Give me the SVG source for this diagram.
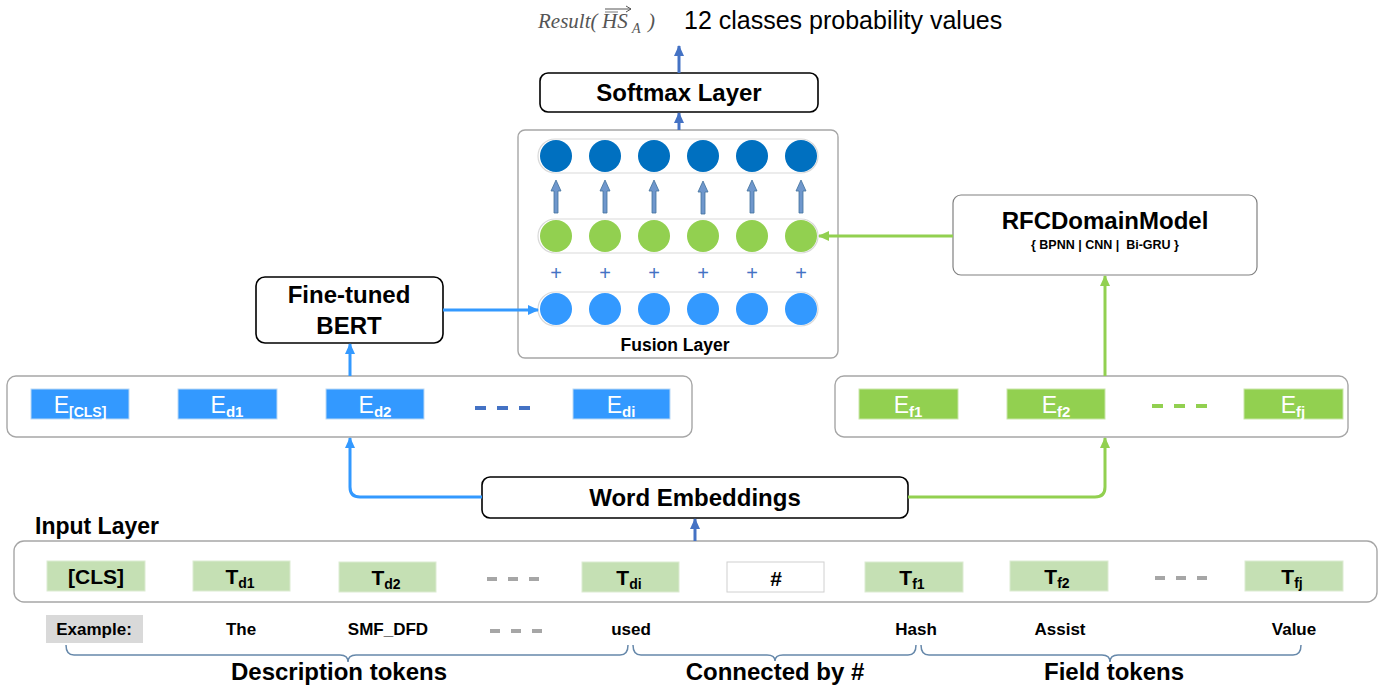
<svg xmlns="http://www.w3.org/2000/svg" width="1396" height="690" viewBox="0 0 1396 690">
<style>
text{font-family:"Liberation Sans",Arial,sans-serif}
.b{font-weight:bold}
.box{fill:#fff;stroke:#000;stroke-width:1.6}
.cont{fill:#fff;stroke:#a6a6a6;stroke-width:1.4}
.pill{fill:#fff;stroke:#d9d9d9;stroke-width:1.2}
.eb{fill:#3399ff;stroke:#bcd9f5;stroke-width:1}
.eg{fill:#92d050;stroke:#c9e6a9;stroke-width:1}
.tg{fill:#c5e0b4;stroke:#dcebd2;stroke-width:1}
.et{fill:#fff;font-size:23px;text-anchor:middle}
.tt{fill:#000;font-size:21px;font-weight:bold;text-anchor:middle}
.ex{fill:#000;font-size:17px;font-weight:bold;text-anchor:middle}
.lbl{fill:#000;font-size:24px;font-weight:bold;text-anchor:middle}
.plus{fill:#4472c4;font-size:20px;text-anchor:middle}
.brace{fill:none;stroke:#6688aa;stroke-width:1.5}
</style>
<defs>
<marker id="mb" markerUnits="userSpaceOnUse" markerWidth="12" markerHeight="12" refX="10" refY="6" orient="auto"><path d="M0,1 L11,6 L0,11 Z" fill="#3399ff"/></marker>
<marker id="mg" markerUnits="userSpaceOnUse" markerWidth="12" markerHeight="12" refX="10" refY="6" orient="auto"><path d="M0,1 L11,6 L0,11 Z" fill="#92d050"/></marker>
<marker id="md" markerUnits="userSpaceOnUse" markerWidth="12" markerHeight="12" refX="10" refY="6" orient="auto"><path d="M0,1 L11,6 L0,11 Z" fill="#4472c4"/></marker>
<path id="ba" d="M0,0 L5,11 L2,11 L2,33 L-2,33 L-2,11 L-5,11 Z" fill="#6f97cc" stroke="#41719c" stroke-width="0.8"/>
</defs>

<g id="result">
<text x="538" y="28" style="font-family:'Liberation Serif',serif;font-style:italic;font-size:21px" fill="#555">Result(<tspan x="602">HS</tspan><tspan x="632" dy="5" font-size="14">A</tspan><tspan x="648" dy="-5">)</tspan></text>
<line x1="605" y1="9" x2="631" y2="9" stroke="#555" stroke-width="1"/>
<path d="M626,6 L631,9 L626,12" fill="none" stroke="#555" stroke-width="1"/>
<line x1="605" y1="12" x2="618" y2="12" stroke="#555" stroke-width="0.8"/>
<text x="684" y="29" font-size="25" fill="#000">12 classes probability values</text>
</g>

<g id="softmax">
<rect class="box" x="540" y="73" width="278" height="39" rx="8"/>
<text class="lbl" x="679" y="101">Softmax Layer</text>
</g>

<g id="fusion">
<rect x="518" y="130" width="320" height="228" rx="7" fill="#fff" stroke="#a6a6a6" stroke-width="1.4"/>
<rect class="pill" x="538" y="139" width="280" height="34" rx="17"/>
<rect class="pill" x="538" y="219" width="280" height="34" rx="17"/>
<rect class="pill" x="538" y="292" width="280" height="34" rx="17"/>
<g fill="#0070c0">
<circle cx="556" cy="156" r="16"/><circle cx="605" cy="156" r="16"/><circle cx="654" cy="156" r="16"/><circle cx="703" cy="156" r="16"/><circle cx="752" cy="156" r="16"/><circle cx="801" cy="156" r="16"/>
</g>
<use href="#ba" x="556" y="180"/><use href="#ba" x="605" y="180"/><use href="#ba" x="654" y="180"/><use href="#ba" x="703" y="181"/><use href="#ba" x="752" y="180"/><use href="#ba" x="801" y="180"/>
<g fill="#92d050">
<circle cx="556" cy="236" r="16"/><circle cx="605" cy="236" r="16"/><circle cx="654" cy="236" r="16"/><circle cx="703" cy="236" r="16"/><circle cx="752" cy="236" r="16"/><circle cx="801" cy="236" r="16"/>
</g>
<text class="plus" x="556" y="280">+</text><text class="plus" x="605" y="280">+</text><text class="plus" x="654" y="280">+</text><text class="plus" x="703" y="280">+</text><text class="plus" x="752" y="280">+</text><text class="plus" x="801" y="280">+</text>
<g fill="#3399ff">
<circle cx="556" cy="309" r="16"/><circle cx="605" cy="309" r="16"/><circle cx="654" cy="309" r="16"/><circle cx="703" cy="309" r="16"/><circle cx="752" cy="309" r="16"/><circle cx="801" cy="309" r="16"/>
</g>
<text x="675" y="351" font-size="17.5" font-weight="bold" text-anchor="middle">Fusion Layer</text>
</g>

<g id="rfc">
<rect x="953" y="195" width="304" height="80" rx="8" fill="#fff" stroke="#808080" stroke-width="1.2"/>
<text class="lbl" x="1105" y="229">RFCDomainModel</text>
<text x="1105" y="249" font-size="12.5" font-weight="bold" text-anchor="middle" style="white-space:pre">{ BPNN | CNN |  Bi-GRU }</text>
</g>

<g id="bert">
<rect class="box" x="256" y="277" width="187" height="66" rx="9"/>
<text class="lbl" x="349" y="303">Fine-tuned</text>
<text class="lbl" x="349" y="334">BERT</text>
</g>

<g id="emb-desc">
<rect class="cont" x="7" y="376" width="685" height="61" rx="9"/>
<rect class="eb" x="31" y="389" width="98" height="30"/>
<text class="et" x="80" y="413">E<tspan dy="4" font-size="14" font-weight="bold">[CLS]</tspan></text>
<rect class="eb" x="178" y="389" width="99" height="30"/>
<text class="et" x="227" y="413">E<tspan dy="4" font-size="15" font-weight="bold">d1</tspan></text>
<rect class="eb" x="326" y="389" width="98" height="30"/>
<text class="et" x="375" y="413">E<tspan dy="4" font-size="15" font-weight="bold">d2</tspan></text>
<g stroke="#4472c4" stroke-width="4"><line x1="475" y1="408" x2="486" y2="408"/><line x1="497" y1="408" x2="508" y2="408"/><line x1="519" y1="408" x2="530" y2="408"/></g>
<rect class="eb" x="573" y="389" width="97" height="30"/>
<text class="et" x="621" y="413">E<tspan dy="4" font-size="15" font-weight="bold">di</tspan></text>
</g>

<g id="emb-field">
<rect class="cont" x="835" y="376" width="513" height="61" rx="9"/>
<rect class="eg" x="859" y="389" width="99" height="30"/>
<text class="et" x="908" y="413">E<tspan dy="4" font-size="15" font-weight="bold">f1</tspan></text>
<rect class="eg" x="1007" y="389" width="98" height="30"/>
<text class="et" x="1056" y="413">E<tspan dy="4" font-size="15" font-weight="bold">f2</tspan></text>
<g stroke="#92d050" stroke-width="4"><line x1="1152" y1="406" x2="1163" y2="406"/><line x1="1174" y1="406" x2="1185" y2="406"/><line x1="1196" y1="406" x2="1207" y2="406"/></g>
<rect class="eg" x="1244" y="389" width="99" height="30"/>
<text class="et" x="1293" y="413">E<tspan dy="4" font-size="15" font-weight="bold">fj</tspan></text>
</g>

<g id="word-emb">
<rect class="box" x="482" y="477" width="426" height="41" rx="8"/>
<text class="lbl" x="695" y="506">Word Embeddings</text>
</g>

<g id="input">
<text x="35" y="534" font-size="23" font-weight="bold">Input Layer</text>
<rect class="cont" x="14" y="541" width="1363" height="61" rx="10"/>
<rect class="tg" x="47" y="561" width="98" height="30"/>
<text class="tt" x="96" y="584" font-weight="normal">[CLS]</text>
<rect class="tg" x="193" y="561" width="97" height="30"/>
<text class="tt" x="240" y="584">T<tspan dy="4" font-size="14">d1</tspan></text>
<rect class="tg" x="339" y="562" width="97" height="30"/>
<text class="tt" x="386" y="585">T<tspan dy="4" font-size="14">d2</tspan></text>
<g stroke="#a6a6a6" stroke-width="4"><line x1="487" y1="579" x2="497" y2="579"/><line x1="508" y1="579" x2="518" y2="579"/><line x1="529" y1="579" x2="539" y2="579"/></g>
<rect class="tg" x="582" y="562" width="97" height="30"/>
<text class="tt" x="629" y="585">T<tspan dy="4" font-size="14">di</tspan></text>
<rect x="727" y="562" width="97" height="30" fill="#fff" stroke="#d0d0d0" stroke-width="1"/>
<text class="tt" x="776" y="586" font-size="23">#</text>
<rect class="tg" x="865" y="562" width="98" height="30"/>
<text class="tt" x="912" y="585">T<tspan dy="4" font-size="14">f1</tspan></text>
<rect class="tg" x="1010" y="561" width="98" height="30"/>
<text class="tt" x="1057" y="584">T<tspan dy="4" font-size="14">f2</tspan></text>
<g stroke="#a6a6a6" stroke-width="4"><line x1="1155" y1="578" x2="1165" y2="578"/><line x1="1176" y1="578" x2="1186" y2="578"/><line x1="1197" y1="578" x2="1207" y2="578"/></g>
<rect class="tg" x="1245" y="561" width="98" height="30"/>
<text class="tt" x="1292" y="584">T<tspan dy="4" font-size="14">fj</tspan></text>
</g>

<g id="example">
<rect x="46" y="615" width="97" height="28" fill="#d9d9d9"/>
<text class="ex" x="94" y="635">Example:</text>
<text class="ex" x="241" y="635">The</text>
<text class="ex" x="388" y="635">SMF_DFD</text>
<g stroke="#a6a6a6" stroke-width="4"><line x1="490" y1="631" x2="500" y2="631"/><line x1="511" y1="631" x2="521" y2="631"/><line x1="532" y1="631" x2="542" y2="631"/></g>
<text class="ex" x="631" y="635">used</text>
<text class="ex" x="916" y="635">Hash</text>
<text class="ex" x="1060" y="635">Assist</text>
<text class="ex" x="1294" y="635">Value</text>
</g>

<g id="braces">
<path class="brace" d="M66,645 Q66,655 74,655 L340,655 Q348,655 348,662 Q348,655 356,655 L620,655 Q628,655 628,645"/>
<path class="brace" d="M633,645 Q633,655 641,655 L767,655 Q775,655 775,661 Q775,655 783,655 L908,655 Q916,655 916,645"/>
<path class="brace" d="M921,645 Q921,655 929,655 L1102,655 Q1110,655 1110,662 Q1110,655 1118,655 L1293,655 Q1301,655 1301,645"/>
<text class="lbl" x="339" y="680">Description tokens</text>
<text class="lbl" x="775" y="680">Connected by #</text>
<text class="lbl" x="1114" y="680">Field tokens</text>
</g>

<g id="connectors" fill="none">
<line x1="679" y1="73" x2="679" y2="46" stroke="#4472c4" stroke-width="3" marker-end="url(#md)"/>
<line x1="679" y1="130" x2="679" y2="113" stroke="#4472c4" stroke-width="3" marker-end="url(#md)"/>
<line x1="953" y1="236" x2="819" y2="236" stroke="#92d050" stroke-width="3" marker-end="url(#mg)"/>
<line x1="443" y1="310" x2="538" y2="310" stroke="#3399ff" stroke-width="3" marker-end="url(#mb)"/>
<line x1="350" y1="376" x2="350" y2="344" stroke="#3399ff" stroke-width="3" marker-end="url(#mb)"/>
<line x1="1105" y1="376" x2="1105" y2="276" stroke="#92d050" stroke-width="3" marker-end="url(#mg)"/>
<path d="M482,497 H360 Q350,497 350,487 V438" stroke="#3399ff" stroke-width="3" marker-end="url(#mb)"/>
<path d="M908,497 H1095 Q1105,497 1105,487 V438" stroke="#92d050" stroke-width="3" marker-end="url(#mg)"/>
<line x1="695" y1="541" x2="695" y2="519" stroke="#4472c4" stroke-width="3" marker-end="url(#md)"/>
</g>
</svg>
